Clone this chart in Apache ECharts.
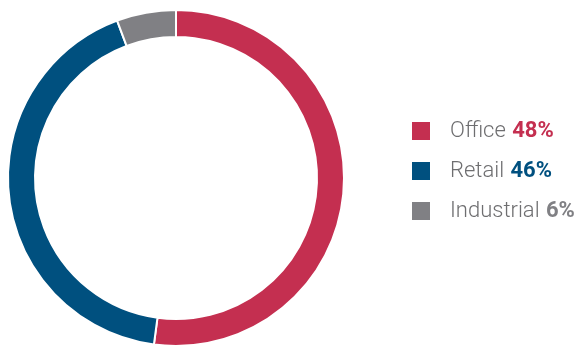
<!DOCTYPE html>
<html>
<head>
<meta charset="utf-8">
<script src="https://cdn.jsdelivr.net/npm/echarts@6/dist/echarts.min.js"></script>
<style>
html, body { margin: 0; padding: 0; background: #fff; }
#chart { width: 581px; height: 347px; }
</style>
</head>
<body>
<div id="chart"></div>
<script>
var names = ['Office', 'Retail', 'Industrial'];
// arc sizes as drawn in the picture (%), legend labels as printed
var values = [52.1, 42.2, 5.7];
var labels = ['48%', '46%', '6%'];
var colors = ['#c42f50', '#00507f', '#808084'];
var richKeys = ['o', 'r', 'i'];

var myChart = echarts.init(document.getElementById('chart'));

var seriesData = names.map(function (n, i) {
	return { name: n, value: values[i], itemStyle: { color: colors[i] } };
});

var rich = {
	t: { fontFamily: 'Roboto', fontWeight: 300, fontSize: 22, lineHeight: 20, color: '#6e6e70', padding: [0, 0, 0, 14] }
};
richKeys.forEach(function (k, i) {
	rich[k] = { fontFamily: 'Roboto', fontWeight: 'bold', fontSize: 22, lineHeight: 20, color: colors[i], padding: [0, 0, 0, 3] };
});

myChart.setOption({
	animation: false,
	legend: {
		orient: 'vertical',
		left: 405,
		top: 115,
		icon: 'rect',
		itemWidth: 20,
		itemHeight: 20,
		itemGap: 18,
		selectedMode: false,
		data: names,
		formatter: function (name) {
			var i = names.indexOf(name);
			return '{t|' + name + '} {' + richKeys[i] + '|' + labels[i] + '}';
		},
		textStyle: { rich: rich }
	},
	series: [{
		type: 'pie',
		center: [176, 178],
		radius: [141, 168],
		startAngle: 90,
		clockwise: true,
		label: { show: false },
		labelLine: { show: false },
		itemStyle: { borderColor: '#fff', borderWidth: 2 },
		emphasis: { disabled: true },
		data: seriesData
	}]
});
</script>
</body>
</html>
